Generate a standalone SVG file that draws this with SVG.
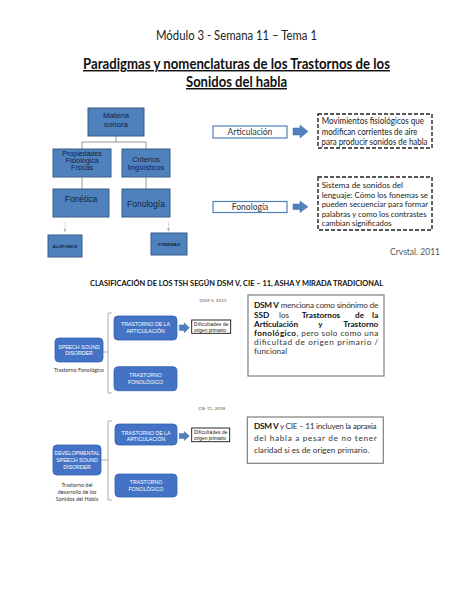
<svg xmlns="http://www.w3.org/2000/svg" width="474" height="613" viewBox="0 0 474 613">
<style>
text{font-family:Lato,"Open Sans","Liberation Sans",sans-serif;}
.hdr{font-size:13px;fill:#222;}
.ttl{font-size:14.5px;font-weight:bold;fill:#111;text-decoration:underline;}
.sq{fill:#4f81bd;stroke:#385d8a;stroke-width:1;}
.sqt{font-family:"Liberation Sans",Arial,sans-serif;font-size:7px;fill:#14213d;text-anchor:middle;}
.lab{font-family:"Liberation Sans",Arial,sans-serif;font-size:4.4px;font-weight:bold;fill:#14213d;text-anchor:middle;}
.con{fill:none;stroke:#8c8c8c;stroke-width:0.9;}
.dot{fill:none;stroke:#b0b0b0;stroke-width:0.8;stroke-dasharray:1 1;}
.wb{fill:#fff;stroke:#4f81bd;stroke-width:1.2;}
.wbt{font-size:8.5px;fill:#333;text-anchor:middle;}
.dash{fill:#fff;stroke:#222;stroke-width:1.4;stroke-dasharray:4 2;}
.dt{font-size:8.8px;fill:#222;}
.dt2{font-size:8.3px;fill:#222;}
.barr{fill:#4f81bd;stroke:#3f6fae;stroke-width:0.5;}
.rb{fill:#4472c4;stroke:#3462b0;stroke-width:0.8;}
.rbt{font-family:"Liberation Sans",Arial,sans-serif;font-size:5.2px;fill:#fff;text-anchor:middle;}
.brk{fill:none;stroke:#a6a6a6;stroke-width:0.9;}
.sm{font-size:5.4px;fill:#333;text-anchor:middle;}
.tiny{font-size:4.6px;fill:#555;text-anchor:middle;}
.gb{fill:#fff;stroke:#7f7f7f;stroke-width:1.2;}
.gt{font-size:8.2px;fill:#333;}
.b{font-weight:bold;fill:#111;}
.db{fill:#fff;stroke:#111;stroke-width:0.9;}
.dbt{font-family:"Liberation Sans",Arial,sans-serif;font-size:4.8px;fill:#111;}
</style>
<defs>
<marker id="ah" viewBox="0 0 6 6" refX="5" refY="3" markerWidth="4" markerHeight="4" orient="auto">
<path d="M0,0 L6,3 L0,6 z" fill="#b0b0b0"/>
</marker>
</defs>

<g id="header">
<text class="hdr" x="236.5" y="39.5" text-anchor="middle" textLength="161" lengthAdjust="spacingAndGlyphs">Módulo 3 - Semana 11 – Tema 1</text>
<text class="ttl" x="236.5" y="69" text-anchor="middle" textLength="307" lengthAdjust="spacingAndGlyphs">Paradigmas y nomenclaturas de los Trastornos de los</text>
<text class="ttl" x="236.5" y="87" text-anchor="middle" textLength="101" lengthAdjust="spacingAndGlyphs">Sonidos del habla</text>
</g>

<g id="connectors">
<path class="con" d="M116,136 V142 M82,142 H146 M82,142 V149 M146,142 V149 M82,177 V189 M146,177 V189"/>
<path class="dot" d="M65,222.5 V231.5" marker-end="url(#ah)"/>
<path class="dot" d="M168.5,222 V231" marker-end="url(#ah)"/>
<path class="brk" d="M112,313 H108 V393 H112 M103,352 H108"/>
<path class="brk" d="M112,421 H108 V500 H112 M101,460 H108"/>
</g>

<g id="materia"><rect class="sq" x="88" y="108" width="56" height="28"/>
<text class="sqt" x="116" y="117.5" style="font-size:7.8px">Materia</text><text class="sqt" x="116" y="126.5" style="font-size:7.8px">sonora</text></g>
<g id="propiedades"><rect class="sq" x="53" y="149" width="58" height="28"/>
<text class="sqt" x="82" y="155.8">Propiedades</text><text class="sqt" x="82" y="162.8">Fisiológica</text><text class="sqt" x="82" y="169.8">Físicas</text></g>
<g id="criterios"><rect class="sq" x="122" y="149" width="48" height="28"/>
<text class="sqt" x="146" y="161.5" style="font-size:7.4px">Criterios</text><text class="sqt" x="146" y="169.5" style="font-size:7.4px">lingüísticos</text></g>
<g id="fonetica"><rect class="sq" x="53" y="189" width="56" height="28"/>
<text class="sqt" x="81" y="202" style="font-size:8.5px">Fonética</text></g>
<g id="fonologia-box"><rect class="sq" x="122" y="189" width="48" height="28"/>
<text class="sqt" x="146" y="207" style="font-size:8.5px">Fonología</text></g>
<g id="alofonos"><rect class="sq" x="48" y="235" width="34" height="22"/>
<text class="lab" x="65" y="247.5">ALÓFONOS</text></g>
<g id="fonemas"><rect class="sq" x="151" y="233" width="36" height="22"/>
<text class="lab" x="169" y="245.5">FONEMAS</text></g>

<g id="articulacion"><rect class="wb" x="213" y="126" width="74" height="12"/>
<text class="wbt" x="250" y="134.8">Articulación</text></g>
<g id="arrow1"><path class="barr" d="M293,128 H300 V125 L308,131.5 L300,138 V135 H293 z"/></g>
<g id="def-articulacion"><rect class="dash" x="318" y="114" width="114" height="34"/>
<text class="dt" x="321.7" y="124.3" textLength="102.3" lengthAdjust="spacingAndGlyphs">Movimientos fisiológicos que</text>
<text class="dt" x="321.7" y="134.8" textLength="95.6" lengthAdjust="spacingAndGlyphs">modifican corrientes de aire</text>
<text class="dt" x="321.5" y="145.2" textLength="106" lengthAdjust="spacingAndGlyphs">para producir sonidos de habla</text></g>

<g id="fonologia"><rect class="wb" x="213" y="201.5" width="74" height="11"/>
<text class="wbt" x="250" y="209.8">Fonología</text></g>
<g id="arrow2"><path class="barr" d="M293,204 H300 V201 L308,206.8 L300,212.5 V209.5 H293 z"/></g>
<g id="def-fonologia"><rect class="dash" x="318" y="177" width="114" height="53"/>
<text class="dt2" x="321.7" y="188" textLength="81.3" lengthAdjust="spacingAndGlyphs">Sistema de sonidos del</text>
<text class="dt2" x="321.7" y="197.6" textLength="106.3" lengthAdjust="spacingAndGlyphs">lenguaje: Cómo los fonemas se</text>
<text class="dt2" x="321.7" y="207.2" textLength="106.3" lengthAdjust="spacingAndGlyphs">pueden secuenciar para formar</text>
<text class="dt2" x="321.7" y="216.7" textLength="105" lengthAdjust="spacingAndGlyphs">palabras y como los contrastes</text>
<text class="dt2" x="321.7" y="226.2" textLength="70" lengthAdjust="spacingAndGlyphs">cambian significados</text></g>
<text x="440" y="254.5" text-anchor="end" style="font-size:8.5px;fill:#555">Crvstal. 2011</text>

<text x="236.5" y="286" text-anchor="middle" textLength="293" lengthAdjust="spacingAndGlyphs" style="font-size:7.6px;font-weight:bold;fill:#111">CLASIFICACIÓN DE LOS TSH SEGÚN DSM V, CIE – 11, ASHA Y MIRADA TRADICIONAL</text>

<text class="tiny" x="213" y="301.5">DSM 5, 2013</text>
<g id="ssd"><rect class="rb" x="55" y="338" width="48" height="24" rx="4"/>
<text class="rbt" x="79" y="348.5">SPEECH SOUND</text><text class="rbt" x="79" y="354.8">DISORDER</text></g>
<text class="sm" x="79" y="372">Trastorno Fonológico</text>
<g id="ta1"><rect class="rb" x="114" y="316" width="63" height="24" rx="4"/>
<text class="rbt" x="145.5" y="326.3">TRASTORNO DE LA</text><text class="rbt" x="145.5" y="332.8">ARTICULACIÓN</text></g>
<g id="arrow3"><path class="barr" d="M179.3,325 H184.3 V322.7 L189.3,327.7 L184.3,332.7 V330.4 H179.3 z"/></g>
<g id="dif1"><rect class="db" x="191.7" y="320" width="39" height="13.3"/>
<text class="dbt" x="194" y="325.6" textLength="34.5" lengthAdjust="spacing">Dificultades  de</text>
<text class="dbt" x="194" y="331.7">origen primario</text></g>
<g id="tf1"><rect class="rb" x="114" y="366.7" width="63" height="24" rx="4"/>
<text class="rbt" x="145.5" y="376.8">TRASTORNO</text><text class="rbt" x="145.5" y="383.5">FONOLÓGICO</text></g>

<g id="dsm-note"><rect class="gb" x="248" y="295" width="136" height="81"/>
<text class="gt" x="254" y="308" textLength="124.3" lengthAdjust="spacing"><tspan class="b">DSM V</tspan> menciona como sinónimo de</text>
<text class="gt b" x="254" y="317.5">SSD</text><text class="gt" x="279" y="317.5">los</text><text class="gt b" x="301.7" y="317.5">Trastornos</text><text class="gt b" x="355" y="317.5">de</text><text class="gt b" x="378.3" y="317.5" text-anchor="end">la</text>
<text class="gt b" x="254" y="326.5">Articulación</text><text class="gt b" x="318.3" y="326.5">y</text><text class="gt b" x="378.3" y="326.5" text-anchor="end">Trastorno</text>
<text class="gt" x="254" y="335.5" textLength="124.3" lengthAdjust="spacing"><tspan class="b">fonológico</tspan>, pero solo como una</text>
<text class="gt" x="254" y="345" textLength="124.3" lengthAdjust="spacing">dificultad de origen primario /</text>
<text class="gt" x="254" y="354">funcional</text></g>

<text class="tiny" x="211.7" y="410">CIE-11, 2018</text>
<g id="dssd"><rect class="rb" x="53" y="445" width="48" height="30" rx="4"/>
<text class="rbt" x="77" y="454.8">DEVELOPMENTAL</text><text class="rbt" x="77" y="461.8">SPEECH SOUND</text><text class="rbt" x="77" y="468.5">DISORDER</text></g>
<text class="sm" x="77" y="487">Trastorno del</text>
<text class="sm" x="77" y="493.8">desarrollo de los</text>
<text class="sm" x="77" y="500.6">Sonidos del Habla</text>
<g id="ta2"><rect class="rb" x="115" y="424" width="62" height="21" rx="4"/>
<text class="rbt" x="146" y="434.6">TRASTORNO DE LA</text><text class="rbt" x="146" y="441.2">ARTICULACIÓN</text></g>
<g id="arrow4"><path class="barr" d="M179.3,433.5 H184.3 V431.5 L189.3,436 L184.3,440.5 V438.5 H179.3 z"/></g>
<g id="dif2"><rect class="db" x="191.7" y="428" width="38" height="13.7"/>
<text class="dbt" x="194" y="433.8" textLength="33.5" lengthAdjust="spacing">Dificultades  de</text>
<text class="dbt" x="194" y="439.9">origen primario</text></g>
<g id="tf2"><rect class="rb" x="115" y="474" width="62" height="23" rx="4"/>
<text class="rbt" x="146" y="483.6">TRASTORNO</text><text class="rbt" x="146" y="491">FONOLÓGICO</text></g>

<g id="cie-note"><rect class="gb" x="247.3" y="417" width="136" height="46.3"/>
<text class="gt" x="254" y="429" textLength="122.7" lengthAdjust="spacing"><tspan class="b">DSM V</tspan> y CIE – 11 incluyen la apraxia</text>
<text class="gt" x="254" y="440.8" textLength="122.7" lengthAdjust="spacing">del habla a pesar de no tener</text>
<text class="gt" x="254" y="452.5">claridad si es de origen primario.</text></g>
</svg>
